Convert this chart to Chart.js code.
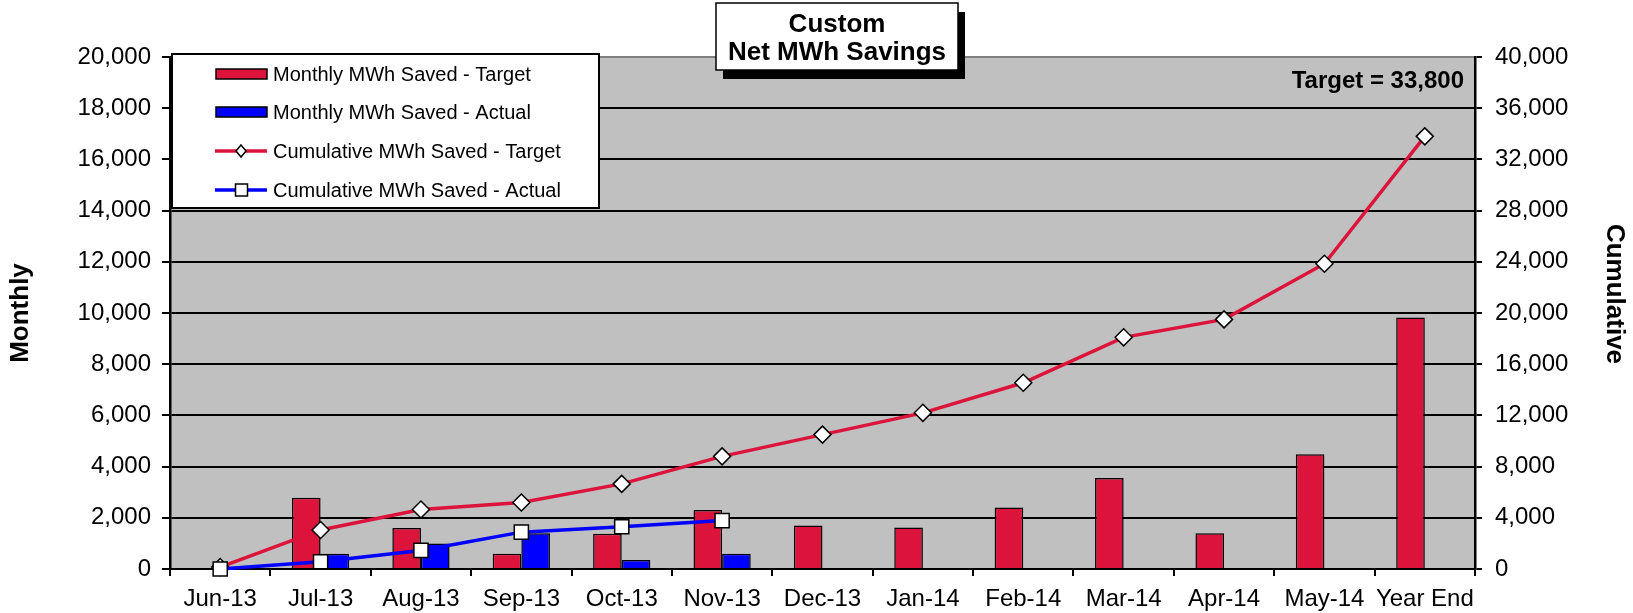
<!DOCTYPE html>
<html>
<head>
<meta charset="utf-8">
<script src="https://cdn.jsdelivr.net/npm/chart.js@4.4.1/dist/chart.umd.min.js"></script>
<style>
  html, body { margin: 0; padding: 0; background: #fff; }
</style>
</head>
<body>
<canvas id="chart" width="1633" height="613"></canvas>
<script>
// categories and values
var months = ['Jun-13', 'Jul-13', 'Aug-13', 'Sep-13', 'Oct-13', 'Nov-13', 'Dec-13', 'Jan-14', 'Feb-14', 'Mar-14', 'Apr-14', 'May-14', 'Year End'];
var monthlyTarget = [0, 2780, 1600, 600, 1380, 2300, 1700, 1620, 2400, 3550, 1400, 4480, 9820];
var monthlyActual = [0, 600, 1000, 1400, 350, 600, null, null, null, null, null, null, null];
var cumulativeTarget = [150, 3050, 4650, 5200, 6650, 8800, 10500, 12200, 14550, 18100, 19500, 23850, 33800];
var cumulativeActual = [0, 570, 1450, 2880, 3300, 3780, null, null, null, null, null, null, null];
var monthlyTicks = ['0', '2,000', '4,000', '6,000', '8,000', '10,000', '12,000', '14,000', '16,000', '18,000', '20,000'];
var cumulativeTicks = ['0', '4,000', '8,000', '12,000', '16,000', '20,000', '24,000', '28,000', '32,000', '36,000', '40,000'];
var titleLines = ['Custom', 'Net MWh Savings'];
var targetNote = 'Target = 33,800';
var rightTitle = 'Cumulative';

var FONT = 'Arial, "Liberation Sans", sans-serif';
var RED = '#DC143C';
var BLUE = '#0000FF';

// plot background, legend box, title box, right axis title and the target note
var decor = {
  id: 'decor',
  beforeDraw: function(chart) {
    var a = chart.chartArea, ctx = chart.ctx;
    ctx.save();
    ctx.fillStyle = '#C0C0C0';
    ctx.fillRect(a.left, a.top, a.right - a.left, a.bottom - a.top);
    ctx.restore();
  },
  afterDraw: function(chart) {
    var a = chart.chartArea, ctx = chart.ctx;
    var ds = chart.data.datasets;
    ctx.save();

    // legend
    ctx.fillStyle = '#fff';
    ctx.fillRect(172, 54, 427, 154);
    ctx.strokeStyle = '#000';
    ctx.lineWidth = 2;
    ctx.strokeRect(172, 54, 427, 154);
    var rows = [74, 112, 151, 190];
    ctx.font = '20px ' + FONT;
    ctx.textBaseline = 'middle';
    ctx.textAlign = 'left';
    for (var i = 0; i < ds.length; i++) {
      var y = rows[i];
      if (ds[i].type === 'bar') {
        ctx.fillStyle = ds[i].backgroundColor;
        ctx.fillRect(216, y - 5, 51, 10);
        ctx.lineWidth = 1.5;
        ctx.strokeStyle = '#000';
        ctx.strokeRect(216, y - 5, 51, 10);
      } else {
        ctx.strokeStyle = ds[i].borderColor;
        ctx.lineWidth = 3.5;
        ctx.beginPath();
        ctx.moveTo(215, y);
        ctx.lineTo(267, y);
        ctx.stroke();
        ctx.fillStyle = '#fff';
        ctx.strokeStyle = '#000';
        ctx.lineWidth = 1.5;
        ctx.beginPath();
        if (ds[i].pointStyle === 'rectRot') {
          ctx.moveTo(241, y - 6); ctx.lineTo(246, y); ctx.lineTo(241, y + 6); ctx.lineTo(236, y);
        } else {
          ctx.rect(235.5, y - 6, 12, 12);
        }
        ctx.closePath();
        ctx.fill();
        ctx.stroke();
      }
      ctx.fillStyle = '#000';
      ctx.fillText(ds[i].label, 273, y + 1);
    }

    // target note
    ctx.font = 'bold 24px ' + FONT;
    ctx.textAlign = 'right';
    ctx.fillStyle = '#000';
    ctx.fillText(targetNote, a.right - 11, a.top + 24);

    // right axis title, reads top to bottom
    ctx.save();
    ctx.translate(1614, 294);
    ctx.rotate(Math.PI / 2);
    ctx.textAlign = 'center';
    ctx.font = 'bold 26px ' + FONT;
    ctx.fillText(rightTitle, 0, 0);
    ctx.restore();

    // title box with shadow
    ctx.fillStyle = '#000';
    ctx.fillRect(723, 12, 242, 67);
    ctx.fillStyle = '#fff';
    ctx.fillRect(716, 3, 242, 67);
    ctx.lineWidth = 1.5;
    ctx.strokeStyle = '#000';
    ctx.strokeRect(716, 3, 242, 67);
    ctx.font = 'bold 26px ' + FONT;
    ctx.textAlign = 'center';
    ctx.fillStyle = '#000';
    ctx.fillText(titleLines[0], 837, 25);
    ctx.fillText(titleLines[1], 837, 53);
    ctx.restore();
  }
};

var ctx = document.getElementById('chart').getContext('2d');
window.chart = new Chart(ctx, {
  data: {
    labels: months,
    datasets: [
      {
        type: 'bar',
        label: 'Monthly MWh Saved - Target',
        data: monthlyTarget,
        yAxisID: 'y',
        backgroundColor: RED,
        borderColor: '#000',
        borderWidth: 1.5,
        barPercentage: 1,
        categoryPercentage: 0.57,
        order: 2
      },
      {
        type: 'bar',
        label: 'Monthly MWh Saved - Actual',
        data: monthlyActual,
        yAxisID: 'y',
        backgroundColor: BLUE,
        borderColor: '#000',
        borderWidth: 1.5,
        barPercentage: 1,
        categoryPercentage: 0.57,
        order: 2
      },
      {
        type: 'line',
        label: 'Cumulative MWh Saved - Target',
        data: cumulativeTarget,
        yAxisID: 'y2',
        borderColor: RED,
        borderWidth: 3.5,
        pointStyle: 'rectRot',
        pointRadius: 8.5,
        pointBackgroundColor: '#fff',
        pointBorderColor: '#000',
        pointBorderWidth: 1.5,
        tension: 0,
        clip: false,
        order: 1
      },
      {
        type: 'line',
        label: 'Cumulative MWh Saved - Actual',
        data: cumulativeActual,
        yAxisID: 'y2',
        borderColor: BLUE,
        borderWidth: 3.5,
        pointStyle: 'rect',
        pointRadius: 10,
        pointBackgroundColor: '#fff',
        pointBorderColor: '#000',
        pointBorderWidth: 1.5,
        tension: 0,
        clip: false,
        spanGaps: false,
        order: 0
      }
    ]
  },
  options: {
    responsive: false,
    animation: false,
    layout: { padding: { top: 57, left: 0, right: 0, bottom: 0 } },
    plugins: {
      legend: { display: false },
      tooltip: { enabled: false }
    },
    scales: {
      x: {
        type: 'category',
        offset: true,
        grid: { offset: true, drawOnChartArea: false, color: '#000', lineWidth: 2, tickLength: 7 },
        border: { color: '#000', width: 2 },
        ticks: { color: '#000', font: { family: FONT, size: 24 }, padding: 9, maxRotation: 0, autoSkip: false },
        afterFit: function(s) { s.height = 44; }
      },
      y: {
        position: 'left',
        min: 0,
        max: 20000,
        ticks: {
          stepSize: 2000,
          color: '#000',
          padding: 11,
          font: { family: FONT, size: 24 },
          callback: function(v, i) { return monthlyTicks[i]; }
        },
        grid: {
          color: function(c) { return c.tick && c.tick.value === 20000 ? '#808080' : '#000'; },
          tickColor: '#000',
          lineWidth: 2,
          tickLength: 8
        },
        border: { color: '#000', width: 2.5 },
        title: {
          display: true,
          text: 'Monthly',
          color: '#000',
          font: { family: FONT, size: 26, weight: 'bold' },
          padding: { top: 5, bottom: 0 }
        },
        afterFit: function(s) { s.width = 170; }
      },
      y2: {
        position: 'right',
        min: 0,
        max: 40000,
        ticks: {
          stepSize: 4000,
          color: '#000',
          padding: 13,
          font: { family: FONT, size: 24 },
          callback: function(v, i) { return cumulativeTicks[i]; }
        },
        grid: { drawOnChartArea: false, color: '#000', lineWidth: 2, tickLength: 7 },
        border: { color: '#000', width: 2.5 },
        afterFit: function(s) { s.width = 158; }
      }
    }
  },
  plugins: [decor]
});
</script>
</body>
</html>
